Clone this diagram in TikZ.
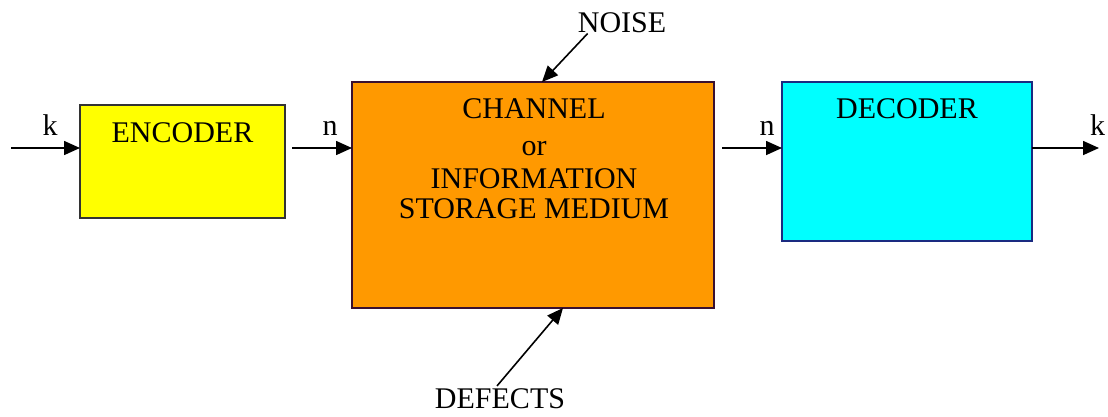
\documentclass[tikz,border=0pt]{standalone}
\usepackage{fontspec}
\setmainfont{Liberation Serif}
\usetikzlibrary{arrows.meta}
\definecolor{encfill}{HTML}{FFFF00}
\definecolor{chanfill}{HTML}{FF9900}
\definecolor{decfill}{HTML}{00FFFF}
\definecolor{decline}{HTML}{1A2A80}
\definecolor{chanline}{HTML}{3A1030}
\tikzset{
  blockbox/.style={draw, line width=1.2pt, outer sep=0pt, inner sep=0pt},
  lbl/.style={inner sep=0pt, anchor=base, font=\fontsize{30}{31}\selectfont},
  arr/.style={line width=1.6pt, -{Triangle[length=16pt,width=14pt]}},
}
\begin{document}
\begin{tikzpicture}[x=1pt,y=-1pt]
\useasboundingbox[fill=white] (0,0) rectangle (1108,416);
% blocks
\node[blockbox, fill=encfill, draw=black!80, minimum width=205pt, minimum height=113pt] (enc) at (182.5,161.5) {};
\node[blockbox, fill=chanfill, draw=chanline, minimum width=362pt, minimum height=226pt] (chan) at (533,195) {};
\node[blockbox, fill=decfill, draw=decline, minimum width=250pt, minimum height=159pt] (dec) at (907,161.5) {};
% texts in blocks
\node[lbl] (enctxt) at (182.5,142) {ENCODER};
\node[lbl] (dectxt) at (907,118) {DECODER};
\node[lbl] (c1) at (534,118) {CHANNEL};
\node[lbl] (c2) at (534,155) {or};
\node[lbl] (c3) at (534,188) {INFORMATION};
\node[lbl] (c4) at (534,218) {STORAGE MEDIUM};
% signal labels
\node[lbl] (kin) at (50,135) {k};
\node[lbl] (n1) at (330,135) {n};
\node[lbl] (n2) at (767,135) {n};
\node[lbl, anchor=base west] (kout) at (1090,135) {k};
\node[lbl] (noise) at (622,32) {NOISE};
\node[lbl] (defects) at (500,408) {DEFECTS};
% connectors
\coordinate (inA) at (11,148);
\coordinate (outB) at (1099,148);
\draw[arr] (inA) -- (inA -| enc.west);
\draw[arr] ([xshift=7pt]inA -| enc.east) -- (inA -| chan.west);
\draw[arr] ([xshift=8pt]inA -| chan.east) -- (inA -| dec.west);
\draw[arr] (outB -| dec.east) -- (outB);
\draw[arr] ([xshift=10pt,yshift=-1pt]noise.south west) -- ([xshift=9pt]chan.north);
\draw[arr] ([xshift=-3pt,yshift=2pt]defects.north) -- ([xshift=30pt]chan.south);
\end{tikzpicture}
\end{document}
